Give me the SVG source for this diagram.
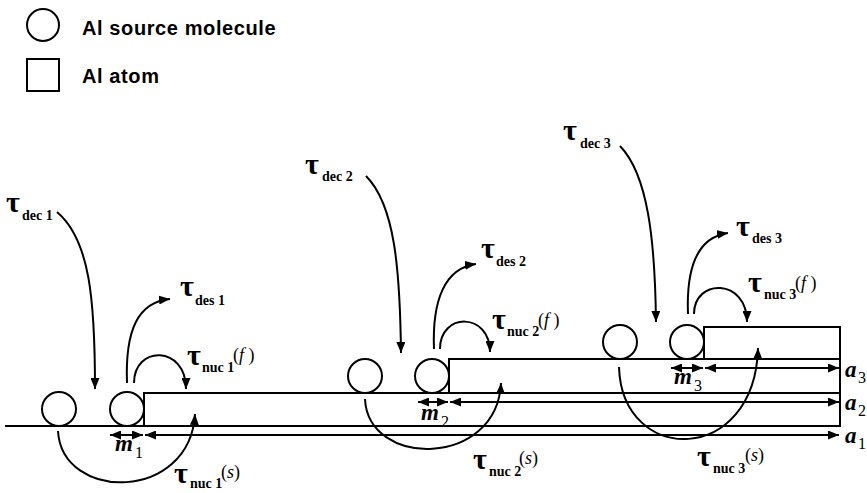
<svg xmlns="http://www.w3.org/2000/svg" width="867" height="493" viewBox="0 0 867 493">
<defs>
<marker id="ah" markerUnits="userSpaceOnUse" markerWidth="11" markerHeight="9" refX="11" refY="4.5" orient="auto-start-reverse" viewBox="0 0 11 9">
<path d="M0,0 L11,4.5 L0,9 z" fill="#000"/>
</marker>
<style>
.ln{fill:none;stroke:#000;stroke-width:2}
.ar{fill:none;stroke:#000;stroke-width:2;marker-end:url(#ah)}
.da{fill:none;stroke:#000;stroke-width:2;marker-start:url(#ah);marker-end:url(#ah)}
.sh{fill:#fff;stroke:#000;stroke-width:2}
.leg{font-family:"Liberation Sans",Arial,sans-serif;font-weight:bold;font-size:20px;letter-spacing:0.6px}
.tau{font-family:"Liberation Serif","Times New Roman",serif;font-weight:bold;font-size:30px}
.sub{font-family:"Liberation Serif","Times New Roman",serif;font-weight:bold;font-size:14px}
.sup{font-family:"Liberation Serif","Times New Roman",serif;font-size:18px}
.it{font-style:italic}
.var{font-family:"Liberation Serif","Times New Roman",serif;font-style:italic;font-weight:bold;font-size:23px}
.num{font-family:"Liberation Serif","Times New Roman",serif;font-size:16px}
</style>
</defs>
<rect width="867" height="493" fill="#fff"/>

<g id="legend">
<circle class="sh" cx="43" cy="25" r="16"/>
<text class="leg" x="82" y="35">Al source molecule</text>
<rect class="sh" x="27" y="59" width="32" height="32"/>
<text class="leg" x="82" y="83">Al atom</text>
</g>

<g id="substrate">
<line class="ln" x1="5" y1="426" x2="840" y2="426"/>
</g>
<g id="layer1"><rect class="sh" x="144" y="393" width="696" height="33"/></g>
<g id="layer2"><rect class="sh" x="449" y="359" width="391" height="34"/></g>
<g id="layer3"><rect class="sh" x="704" y="327" width="136" height="32"/></g>

<g id="molecules">
<circle class="sh" cx="59" cy="409" r="17"/>
<circle class="sh" cx="127" cy="409" r="17"/>
<circle class="sh" cx="365" cy="376" r="17"/>
<circle class="sh" cx="432" cy="376" r="17"/>
<circle class="sh" cx="620" cy="342" r="17"/>
<circle class="sh" cx="687" cy="342" r="17"/>
</g>

<g id="connectors">
<path class="da" d="M110,435 L143,435"/>
<path class="da" d="M145,435 L839,435"/>
<path class="da" d="M418,402 L448,402"/>
<path class="da" d="M450,402 L839,402"/>
<path class="da" d="M671,368 L703,368"/>
<path class="da" d="M705,368 L839,368"/>

<path class="ar" d="M57,212 C90,240 95,300 95,389"/>
<path class="ar" d="M127,383 C125,330 138,302 170,299"/>
<path class="ar" d="M134,383 C134,345 186,345 186,389"/>
<path class="ar" d="M58,431 C62,502 190,502 195,414"/>

<path class="ar" d="M366,176 C395,205 400,270 401,353"/>
<path class="ar" d="M434,349 C432,300 445,268 476,264"/>
<path class="ar" d="M440,349 C440,312 490,312 490,352"/>
<path class="ar" d="M365,399 C368,468 497,468 501,383"/>

<path class="ar" d="M620,146 C648,175 655,240 656,322"/>
<path class="ar" d="M688,314 C686,264 699,237 728,233"/>
<path class="ar" d="M694,314 C694,278 747,278 747,322"/>
<path class="ar" d="M619,367 C622,466 755,466 758,348"/>
</g>

<g id="labels">
<text><tspan class="tau" x="6" y="212">τ</tspan><tspan class="sub" x="22" y="220">dec 1</tspan></text>
<text><tspan class="tau" x="180" y="296">τ</tspan><tspan class="sub" x="195" y="305">des 1</tspan></text>
<text><tspan class="tau" x="187" y="365">τ</tspan><tspan class="sub" x="202" y="372">nuc 1</tspan><tspan class="sup" x="233" y="361">(<tspan class="it">f</tspan> )</tspan></text>
<text><tspan class="tau" x="174" y="483">τ</tspan><tspan class="sub" x="190" y="488">nuc 1</tspan><tspan class="sup" x="221" y="478">(<tspan class="it">s</tspan>)</tspan></text>

<text><tspan class="tau" x="305" y="174">τ</tspan><tspan class="sub" x="322" y="181">dec 2</tspan></text>
<text><tspan class="tau" x="481" y="258">τ</tspan><tspan class="sub" x="496" y="266">des 2</tspan></text>
<text><tspan class="tau" x="492" y="329">τ</tspan><tspan class="sub" x="507" y="336">nuc 2</tspan><tspan class="sup" x="538" y="326">(<tspan class="it">f</tspan> )</tspan></text>
<text><tspan class="tau" x="473" y="469">τ</tspan><tspan class="sub" x="489" y="476">nuc 2</tspan><tspan class="sup" x="519" y="464">(<tspan class="it">s</tspan>)</tspan></text>

<text><tspan class="tau" x="563" y="140">τ</tspan><tspan class="sub" x="580" y="148">dec 3</tspan></text>
<text><tspan class="tau" x="736" y="236">τ</tspan><tspan class="sub" x="752" y="243">des 3</tspan></text>
<text><tspan class="tau" x="748" y="292">τ</tspan><tspan class="sub" x="764" y="299">nuc 3</tspan><tspan class="sup" x="795" y="289">(<tspan class="it">f</tspan> )</tspan></text>
<text><tspan class="tau" x="697" y="466">τ</tspan><tspan class="sub" x="713" y="473">nuc 3</tspan><tspan class="sup" x="745" y="461">(<tspan class="it">s</tspan>)</tspan></text>

<text><tspan class="var" x="115" y="451">m</tspan><tspan class="num" x="135" y="458">1</tspan></text>
<text><tspan class="var" x="421" y="420">m</tspan><tspan class="num" x="441" y="427">2</tspan></text>
<text><tspan class="var" x="674" y="384">m</tspan><tspan class="num" x="694" y="391">3</tspan></text>

<text><tspan class="var" x="845" y="377">a</tspan><tspan class="num" x="858" y="383">3</tspan></text>
<text><tspan class="var" x="845" y="410">a</tspan><tspan class="num" x="858" y="416">2</tspan></text>
<text><tspan class="var" x="845" y="443">a</tspan><tspan class="num" x="858" y="449">1</tspan></text>
</g>
</svg>
